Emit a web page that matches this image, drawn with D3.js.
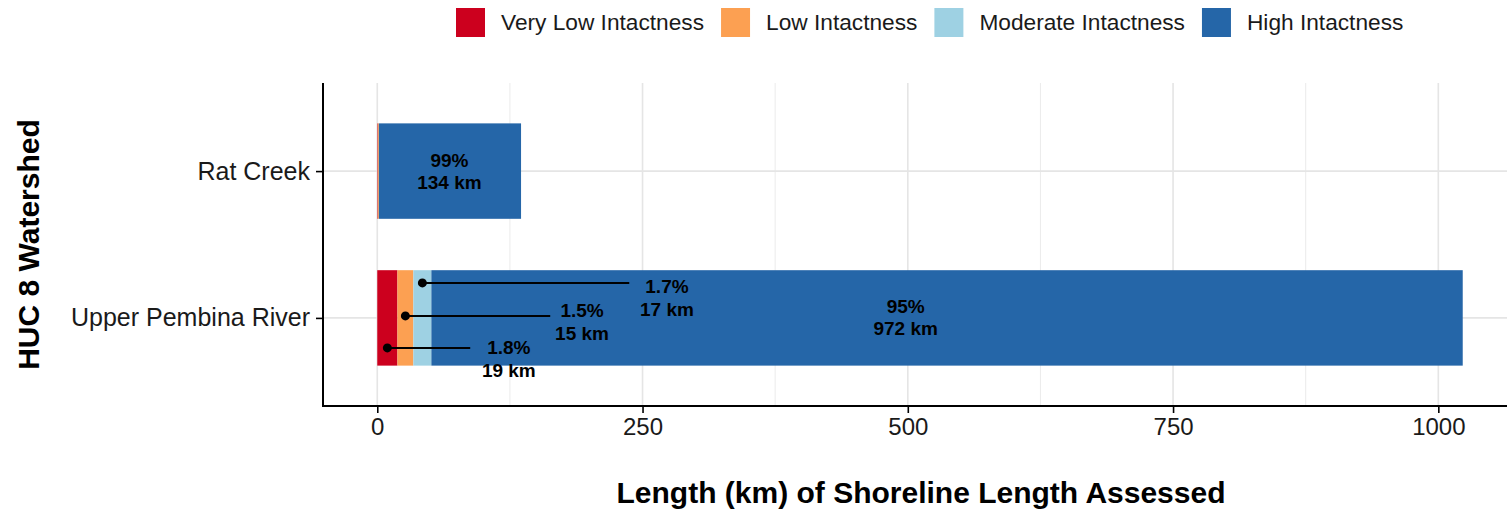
<!DOCTYPE html>
<html>
<head>
<meta charset="utf-8">
<script src="https://cdn.jsdelivr.net/npm/d3@7"></script>
<style>
  body { margin: 0; background: #fff; }
  svg { display: block; font-family: "Liberation Sans", Arial, sans-serif; }
</style>
</head>
<body>
<figure id="bar" style="margin:0"></figure>
<script>
// data
const watersheds = ['Rat Creek', 'Upper Pembina River'];
const classes = ['Very Low Intactness', 'Low Intactness', 'Moderate Intactness', 'High Intactness'];
const classColors = ['#cc001e', '#fca052', '#9ed1e3', '#2566a8'];
const veryLow = [0.5, 19];
const low = [1, 15];
const moderate = [0, 17];
const high = [134, 972];
const highLabels = [['99%', '134 km'], ['95%', '972 km']];
const smallLabels = [['1.8%', '19 km'], ['1.5%', '15 km'], ['1.7%', '17 km']]; // Upper Pembina River
const xTicks = [0, 250, 500, 750, 1000];
const xMinorTicks = [125, 375, 625, 875];

const width = 1507;
const height = 514;
const panel = {left: 323, right: 1517, top: 83, bottom: 406};

const svg = d3.select('figure#bar')
  .append('svg')
  .attr('width', width)
  .attr('height', height);

const rows = watersheds.map((w, i) => ({
  name: w,
  'Very Low Intactness': veryLow[i],
  'Low Intactness': low[i],
  'Moderate Intactness': moderate[i],
  'High Intactness': high[i]
}));

const stacked = d3.stack().keys(classes)(rows);
const maxTotal = d3.max(rows, d => classes.reduce((s, k) => s + d[k], 0));

// ggplot style 5% expansion
const x = d3.scaleLinear()
  .domain([-0.05 * maxTotal, maxTotal * 1.05])
  .range([panel.left, panel.right]);

const y = d3.scalePoint()
  .domain(watersheds)
  .range([panel.top, panel.bottom])
  .padding(0.6);

const barH = y.step() * 0.65;
const color = d3.scaleOrdinal().domain(classes).range(classColors);

// grid
const grid = svg.append('g');
grid.selectAll('line.minor')
  .data(xMinorTicks)
  .enter()
  .append('line')
  .attr('x1', d => x(d)).attr('x2', d => x(d))
  .attr('y1', panel.top).attr('y2', panel.bottom)
  .attr('stroke', '#ebebeb')
  .attr('stroke-width', 1);
grid.selectAll('line.major')
  .data(xTicks)
  .enter()
  .append('line')
  .attr('x1', d => x(d)).attr('x2', d => x(d))
  .attr('y1', panel.top).attr('y2', panel.bottom)
  .attr('stroke', '#e5e5e5')
  .attr('stroke-width', 1.6);
grid.selectAll('line.hmajor')
  .data(watersheds)
  .enter()
  .append('line')
  .attr('x1', panel.left).attr('x2', panel.right)
  .attr('y1', d => y(d)).attr('y2', d => y(d))
  .attr('stroke', '#e5e5e5')
  .attr('stroke-width', 1.6);

// bars
svg.append('g')
  .selectAll('g')
  .data(stacked)
  .enter()
  .append('g')
  .attr('fill', d => color(d.key))
  .selectAll('rect')
  .data(d => d)
  .enter()
  .append('rect')
  .attr('x', d => x(d[0]))
  .attr('y', d => y(d.data.name) - barH / 2)
  .attr('width', d => Math.max(0, x(d[1]) - x(d[0])))
  .attr('height', barH);

// labels inside the high segment
const highLabelX = [68, 498];
const labels = svg.append('g')
  .attr('font-weight', 'bold')
  .attr('font-size', 19)
  .attr('text-anchor', 'middle')
  .attr('fill', '#000');
watersheds.forEach((w, i) => {
  const t = labels.append('text')
    .attr('x', x(highLabelX[i]))
    .attr('y', y(w) - 4.5);
  t.append('tspan').text(highLabels[i][0]);
  t.append('tspan').attr('x', x(highLabelX[i])).attr('dy', 22).text(highLabels[i][1]);
});

// callouts for the small segments of Upper Pembina River
const pembina = watersheds[1];
const callout = [
  {dotDy: 30, lineEnd: 87.6, labelX: 124, labelDy: 36},
  {dotDy: -2, lineEnd: 163, labelX: 193, labelDy: -1},
  {dotDy: -35, lineEnd: 237.5, labelX: 273, labelDy: -25}
];
const ci = watersheds.indexOf(pembina);
callout.forEach((c, k) => {
  const seg = stacked[k][ci];
  const cx = x((seg[0] + seg[1]) / 2);
  const cy = y(pembina) + c.dotDy;
  svg.append('line')
    .attr('x1', cx).attr('x2', x(c.lineEnd))
    .attr('y1', cy).attr('y2', cy)
    .attr('stroke', '#000')
    .attr('stroke-width', 2);
  svg.append('circle')
    .attr('cx', cx).attr('cy', cy)
    .attr('r', 4.5)
    .attr('fill', '#000');
  const t = labels.append('text')
    .attr('x', x(c.labelX))
    .attr('y', y(pembina) + c.labelDy);
  t.append('tspan').text(smallLabels[k][0]);
  t.append('tspan').attr('x', x(c.labelX)).attr('dy', 23).text(smallLabels[k][1]);
});

// axes
const xAxis = svg.append('g')
  .attr('transform', 'translate(0,' + panel.bottom + ')')
  .call(d3.axisBottom(x).tickValues(xTicks).tickFormat(d3.format('d'))
    .tickSize(7).tickPadding(5).tickSizeOuter(0));
xAxis.select('.domain').remove();
xAxis.selectAll('line').attr('stroke', '#000').attr('stroke-width', 1.6);
xAxis.selectAll('text')
  .attr('font-size', 24)
  .attr('fill', '#1a1a1a')
  .attr('font-family', '"Liberation Sans", Arial, sans-serif');

const yAxis = svg.append('g')
  .attr('transform', 'translate(' + panel.left + ',0)')
  .call(d3.axisLeft(y).tickSize(7).tickPadding(6).tickSizeOuter(0));
yAxis.select('.domain').remove();
yAxis.selectAll('line').attr('stroke', '#000').attr('stroke-width', 1.6);
yAxis.selectAll('text')
  .attr('font-size', 25)
  .attr('fill', '#1a1a1a')
  .attr('font-family', '"Liberation Sans", Arial, sans-serif');

svg.append('line')
  .attr('x1', panel.left).attr('x2', panel.left)
  .attr('y1', panel.top).attr('y2', panel.bottom + 1)
  .attr('stroke', '#000').attr('stroke-width', 2);
svg.append('line')
  .attr('x1', panel.left - 1).attr('x2', panel.right)
  .attr('y1', panel.bottom).attr('y2', panel.bottom)
  .attr('stroke', '#000').attr('stroke-width', 2);

// axis titles
svg.append('text')
  .attr('x', (panel.left + panel.right) / 2 + 1)
  .attr('y', 503)
  .attr('text-anchor', 'middle')
  .attr('font-weight', 'bold')
  .attr('font-size', 30)
  .text('Length (km) of Shoreline Length Assessed');

svg.append('text')
  .attr('transform', 'translate(39,' + (panel.top + panel.bottom) / 2 + ')rotate(-90)')
  .attr('text-anchor', 'middle')
  .attr('font-weight', 'bold')
  .attr('font-size', 30)
  .text('HUC 8 Watershed');

// legend
const legend = svg.append('g');
let lx = 456;
classes.forEach((c, i) => {
  legend.append('rect')
    .attr('x', lx).attr('y', 8)
    .attr('width', 29).attr('height', 29)
    .attr('fill', color(c));
  const t = legend.append('text')
    .attr('x', lx + 29 + 16)
    .attr('y', 30)
    .attr('font-size', 22.7)
    .attr('fill', '#1a1a1a')
    .text(c);
  lx += 29 + 16 + t.node().getComputedTextLength() + 17;
});
</script>
</body>
</html>
